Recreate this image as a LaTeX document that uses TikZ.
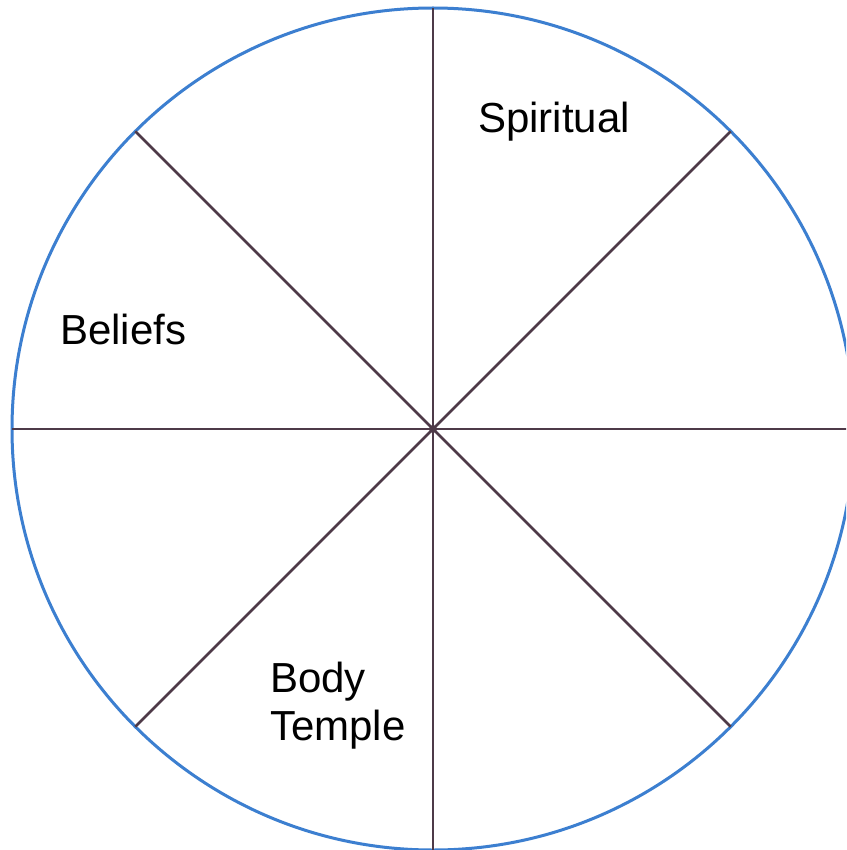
\documentclass[tikz,border=0pt]{standalone}
\usetikzlibrary{calc}
\usepackage{fontspec}
\setmainfont{Liberation Sans}
\definecolor{rim}{HTML}{3C7FD0}
\definecolor{spoke}{HTML}{4E3A48}
\tikzset{
  rimline/.style={draw=rim, line width=3pt},
  spokeline/.style={draw=spoke, line width=2.5pt},
  label/.style={anchor=base west, inner sep=0pt, font=\fontsize{42}{48}\selectfont, align=left}
}
\begin{document}
\begin{tikzpicture}[x=1pt,y=-1pt]
\useasboundingbox (0,0) rectangle (846,850);
\clip (0,0) rectangle (846,850);
\fill[white] (0,0) rectangle (846,850);
\coordinate (c) at (433,429);
\draw[rimline] (c) circle (421);
\foreach \a in {0,45,...,315} {
  \coordinate (p\a) at ($(c)+(\a:421)$);
}
\draw[spokeline] (p0) -- (p180);
\draw[spokeline] (p90) -- (p270);
\draw[spokeline] (p45) -- (p225);
\draw[spokeline] (p135) -- (p315);
\fill[spoke] (c) circle (4);
\node[label] (spiritual) at (478,133) {Spiritual};
\node[label] (beliefs) at (60,344) {Beliefs};
\node[label] (body) at (270,740) {Body\\Temple};
\end{tikzpicture}
\end{document}
